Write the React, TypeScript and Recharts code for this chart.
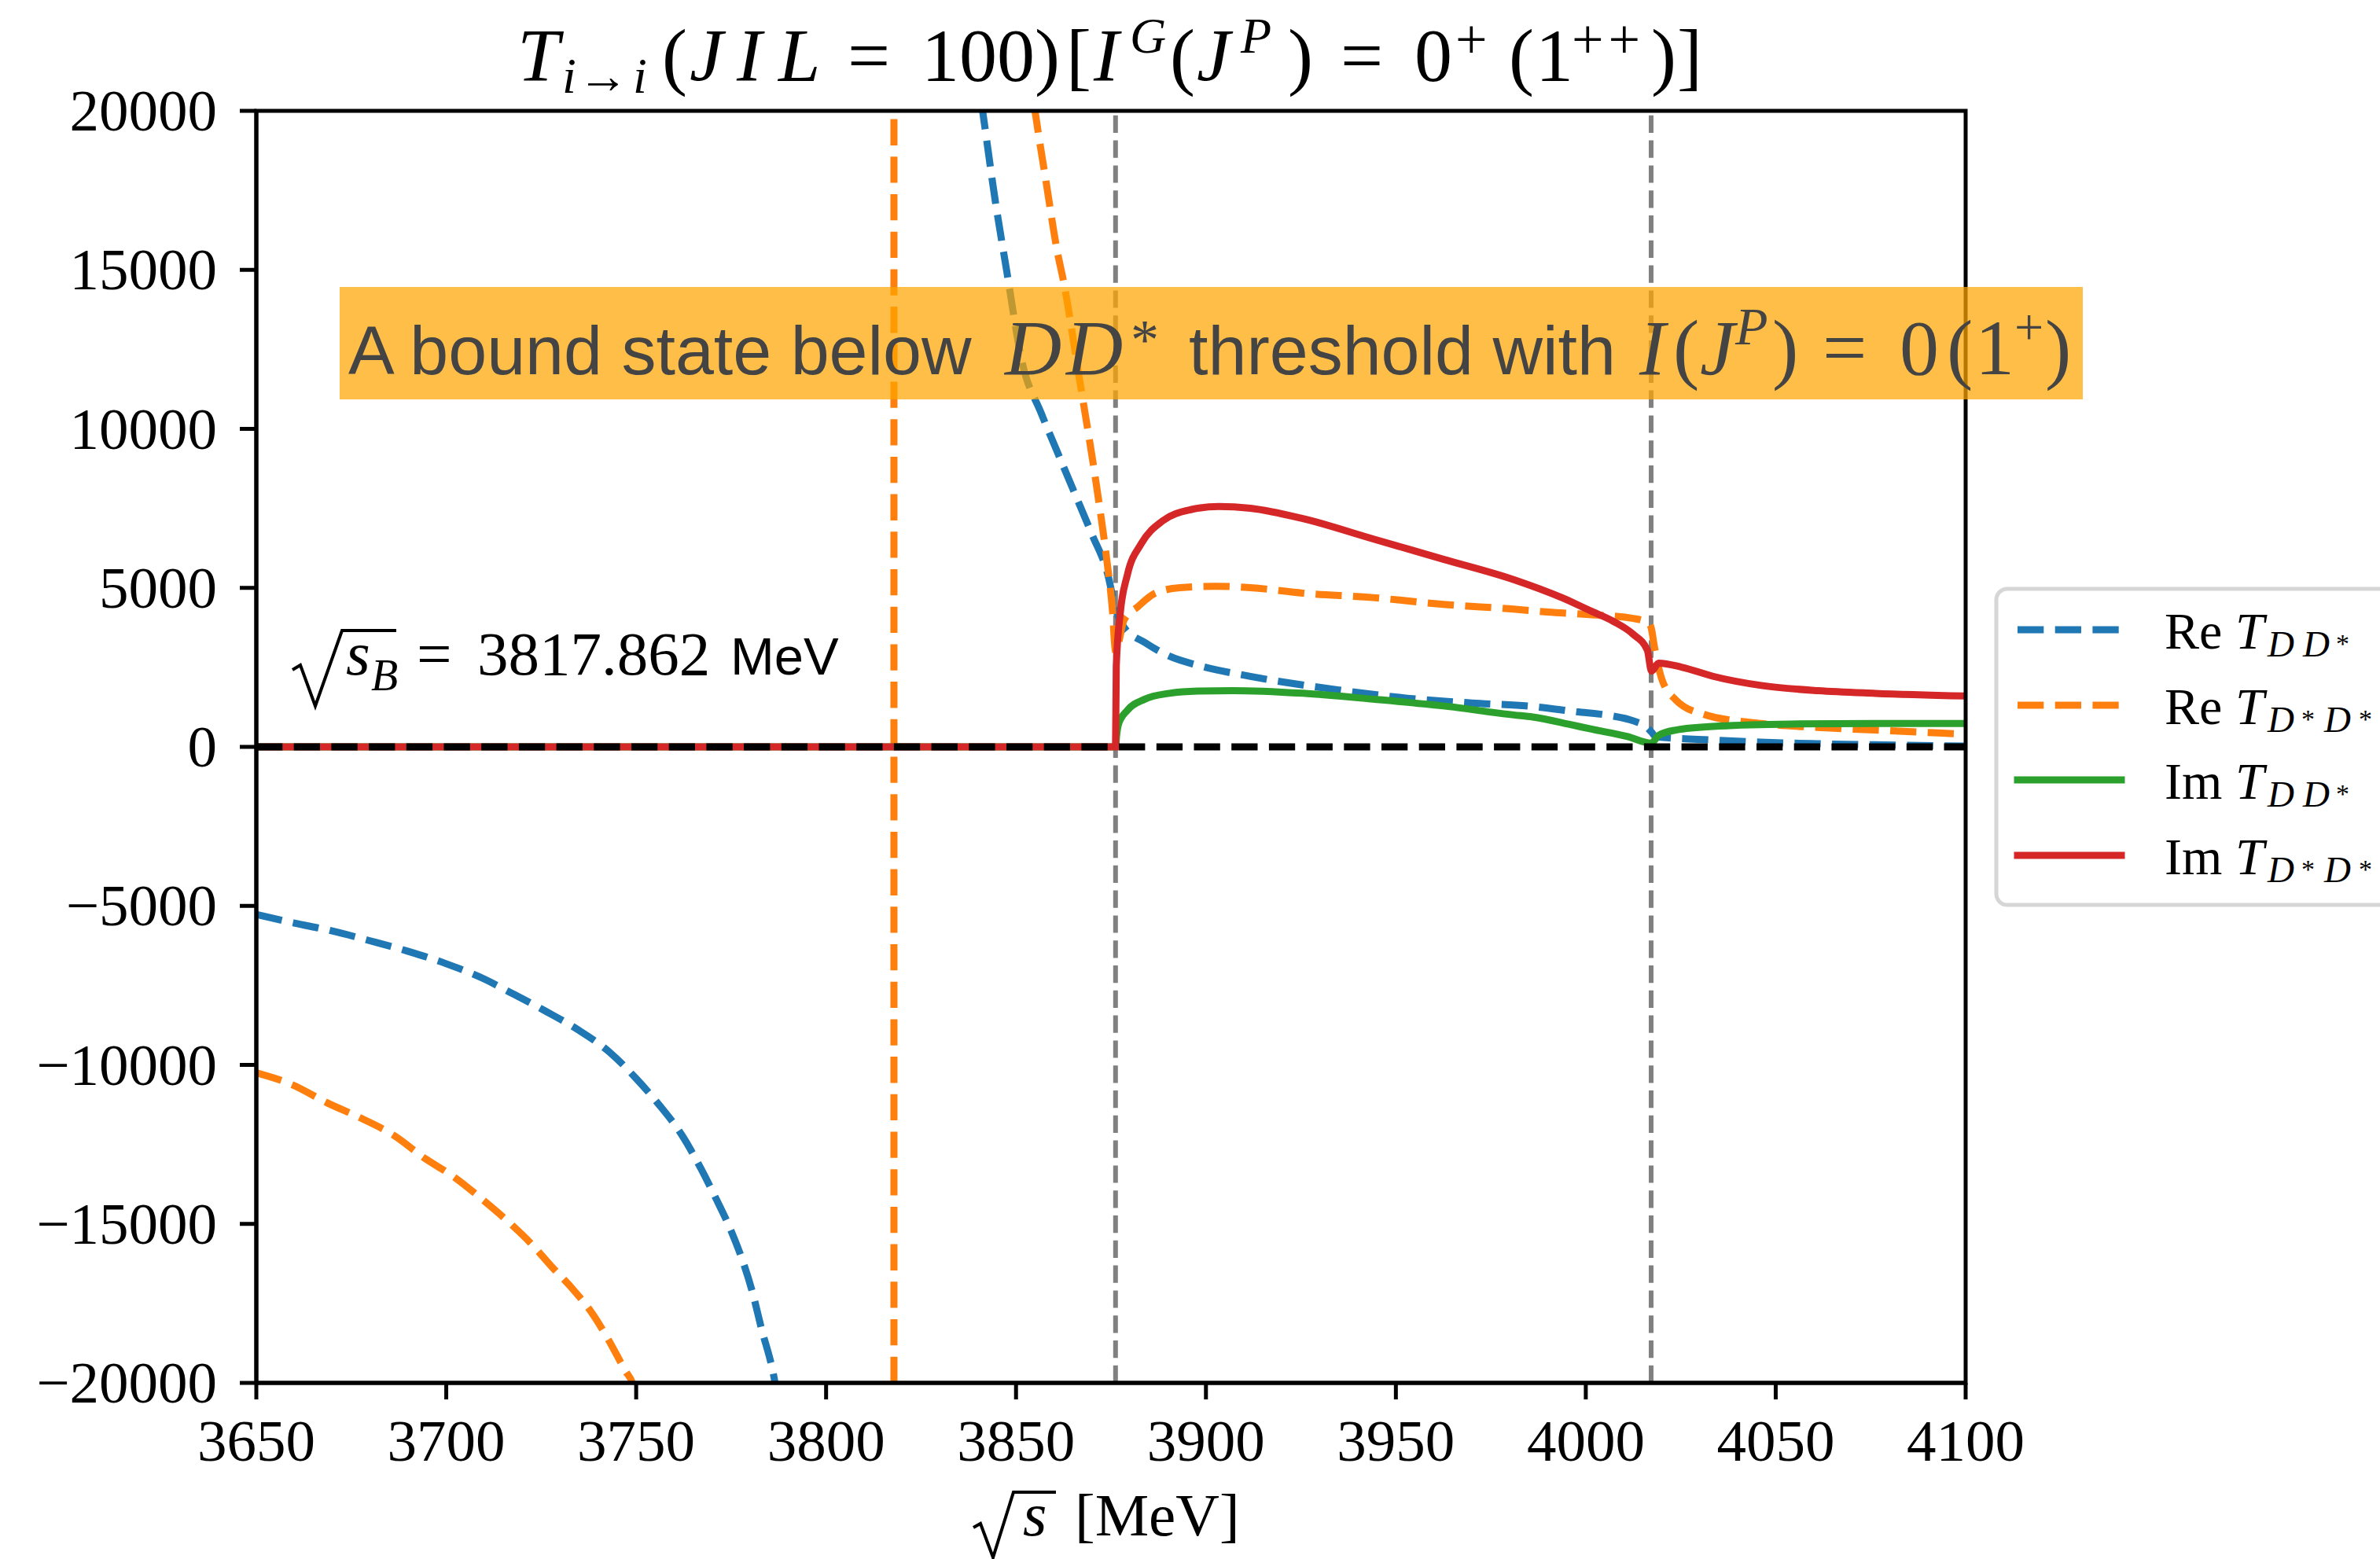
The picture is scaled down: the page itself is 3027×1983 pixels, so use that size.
import React from 'react';
import { LineChart, Line, XAxis, YAxis } from 'recharts';

const CHART_W = 3027;
const CHART_H = 1983;

const xTicks = [3650, 3700, 3750, 3800, 3850, 3900, 3950, 4000, 4050, 4100];
const yTicks = [-20000, -15000, -10000, -5000, 0, 5000, 10000, 15000, 20000];
const xDomain: [number, number] = [3650, 4100];
const yDomain: [number, number] = [-20000, 20000];

const thresholdDDs = 3876.2;
const thresholdDsDs = 4017.2;
const polePosition = 3817.862;

// Re T_{DD*}
const reDDLowX = [3650, 3660, 3670, 3680, 3690, 3700, 3710, 3717, 3726, 3735, 3743, 3750, 3756, 3762, 3767, 3771, 3775, 3778, 3780.5, 3783, 3786, 3788];
const reDDLowY = [-5270, -5540, -5790, -6100, -6430, -6820, -7300, -7730, -8300, -8920, -9600, -10430, -11250, -12200, -13250, -14200, -15220, -16150, -17100, -18300, -19650, -21000];
const reDDUpX = [3839.5, 3841.2, 3844.5, 3847.5, 3851.6, 3856.6, 3861, 3865, 3870, 3874.2, 3876.2, 3878.4, 3884, 3890.4, 3898, 3912, 3935, 3953, 3970, 3986, 3997.5, 4006.5, 4012.5, 4016, 4017.2, 4018.5, 4031, 4046, 4061, 4076, 4100];
const reDDUpY = [21400, 20000, 17200, 15000, 12100, 10500, 9240, 8100, 6680, 5400, 4340, 3770, 3275, 2850, 2560, 2210, 1790, 1530, 1380, 1271, 1106, 983, 818, 620, 480, 313, 231, 149, 99, 66, 25];

// Re T_{D*D*}
const reDsDsLowX = [3650, 3659.4, 3668.6, 3678, 3686, 3694.5, 3702, 3709.3, 3716.7, 3722.2, 3727.8, 3733.3, 3738, 3742.6, 3747.2, 3749, 3751];
const reDsDsLowY = [-10250, -10620, -11190, -11700, -12200, -12950, -13520, -14210, -14970, -15600, -16350, -17050, -17740, -18620, -19630, -20000, -21000];
const reDsDsUpX = [3853.5, 3855, 3858, 3860.8, 3862.6, 3866.4, 3871.5, 3873.8, 3875.4, 3876.2, 3878.4, 3882.1, 3886.7, 3893.2, 3902.4, 3911.7, 3925.5, 3944, 3962.5, 3981, 3990, 4001, 4012.5, 4016.5, 4017.2, 4018.1, 4020, 4023.7, 4031, 4046, 4061, 4076, 4100];
const reDsDsUpY = [21300, 20000, 17700, 15620, 14580, 11790, 7960, 5970, 4270, 2990, 3980, 4410, 4835, 5006, 5050, 5006, 4835, 4694, 4481, 4330, 4240, 4160, 4040, 3900, 3750, 3126, 2137, 1477, 1024, 735, 612, 529, 400];

// Im T_{DD*}
const imDDX = [3650, 3876.2, 3876.5, 3877, 3879.3, 3883.9, 3890.4, 3897.8, 3907, 3925.5, 3944, 3962.5, 3981, 3986, 3996, 4001, 4011, 4017.2, 4019.2, 4023.7, 4035, 4054, 4076, 4100];
const imDDY = [0, 0, 380, 720, 1146, 1500, 1685, 1756, 1770, 1685, 1500, 1288, 1005, 941, 700, 570, 323, 117, 364, 530, 653, 719, 735, 735];

// Im T_{D*D*}
const imDsDsX = [3650, 3876.2, 3876.4, 3877.5, 3879.3, 3883, 3888.6, 3896, 3903.4, 3911.7, 3925.5, 3944, 3962.5, 3981, 3993.7, 4001.2, 4007.2, 4012.5, 4016.2, 4017.3, 4019.2, 4025.2, 4033.5, 4046.2, 4061.2, 4076.2, 4100];
const imDsDsY = [0, 0, 2565, 4268, 5403, 6396, 7106, 7460, 7560, 7503, 7177, 6538, 5900, 5261, 4692, 4280, 3950, 3538, 3044, 2384, 2631, 2508, 2219, 1931, 1766, 1684, 1601];

const zeroLineX = [3650, 4100];
const zeroLineY = [0, 0];

type Pt = { x: number; y: number | null };
const zip = (xs: number[], ys: (number | null)[]): Pt[] => xs.map((x, i) => ({ x, y: ys[i] }));

const reDDData: Pt[] = [...zip(reDDLowX, reDDLowY), { x: polePosition, y: null }, ...zip(reDDUpX, reDDUpY)];
const reDsDsData: Pt[] = [...zip(reDsDsLowX, reDsDsLowY), { x: polePosition, y: null }, ...zip(reDsDsUpX, reDsDsUpY)];
const imDDData = zip(imDDX, imDDY);
const imDsDsData = zip(imDsDsX, imDsDsY);
const zeroData = zip(zeroLineX, zeroLineY);
const poleData = zip([polePosition, polePosition], yDomain);
const thr1Data = zip([thresholdDDs, thresholdDDs], yDomain);
const thr2Data = zip([thresholdDsDs, thresholdDsDs], yDomain);

const C_BLUE = '#1f77b4';
const C_ORANGE = '#ff7f0e';
const C_GREEN = '#2ca02c';
const C_RED = '#d62728';

const serif = "'Liberation Serif', 'DejaVu Serif', serif";
const sans = "'Liberation Sans', Arial, sans-serif";
const DASH = '33.3 14.4';
const LW = 9;

const fmtTick = (v: number) => (v < 0 ? '\u2212' + Math.abs(v) : String(v));

const XTick = (props: any) => {
  const { x, y, payload } = props;
  return (
    <text x={x} y={y + 78} textAnchor="middle" fontFamily={serif} fontSize={75} fill="#000">
      {fmtTick(payload.value)}
    </text>
  );
};

const YTick = (props: any) => {
  const { x, y, payload } = props;
  return (
    <text x={x - 29} y={y + 25} textAnchor="end" fontFamily={serif} fontSize={75} fill="#000">
      {fmtTick(payload.value)}
    </text>
  );
};

const Tx = (p: { x: number; y: number; s: number; it?: boolean; f?: string; fill?: string; ls?: number; children: React.ReactNode }) => (
  <text
    x={p.x}
    y={p.y}
    fontSize={p.s}
    fontStyle={p.it ? 'italic' : 'normal'}
    fontFamily={p.f || serif}
    fill={p.fill || '#000'}
    letterSpacing={p.ls}
  >
    {p.children}
  </text>
);

const LegendEntry = (p: { y: number; pre: string; sub: 'DD' | 'DsDs'; color: string; dashed: boolean }) => {
  const { y } = p;
  return (
    <g>
      <line
        x1={2566}
        x2={2698}
        y1={y}
        y2={y}
        stroke={p.color}
        strokeWidth={LW}
        strokeDasharray={p.dashed ? DASH : undefined}
        strokeLinecap={p.dashed ? 'butt' : 'square'}
      />
      <Tx x={2753} y={y + 24} s={66}>{p.pre}</Tx>
      <Tx x={2843} y={y + 24} s={66} it>T</Tx>
      {p.sub === 'DD' ? (
        <g>
          <Tx x={2884} y={y + 34} s={47} it>D</Tx>
          <Tx x={2929} y={y + 34} s={47} it>D</Tx>
          <Tx x={2971} y={y + 29} s={34}>*</Tx>
        </g>
      ) : (
        <g>
          <Tx x={2884} y={y + 34} s={47} it>D</Tx>
          <Tx x={2927} y={y + 29} s={34}>*</Tx>
          <Tx x={2956} y={y + 34} s={47} it>D</Tx>
          <Tx x={3000} y={y + 29} s={34}>*</Tx>
        </g>
      )}
    </g>
  );
};

export default function App() {
  return (
    <div style={{ position: 'absolute', left: 0, top: 0, width: CHART_W, height: CHART_H, background: '#fff' }}>
      <LineChart width={CHART_W} height={CHART_H} margin={{ top: 141, right: 527, bottom: 74, left: 26 }}>
        <XAxis
          dataKey="x"
          type="number"
          domain={xDomain}
          allowDataOverflow
          ticks={xTicks}
          interval={0}
          height={150}
          tickSize={21}
          tickMargin={0}
          tick={XTick}
          tickLine={{ stroke: '#000', strokeWidth: 5 }}
          axisLine={{ stroke: '#000', strokeWidth: 5 }}
        />
        <YAxis
          type="number"
          domain={yDomain}
          allowDataOverflow
          ticks={yTicks}
          interval={0}
          width={300}
          tickSize={21}
          tickMargin={0}
          tick={YTick}
          tickLine={{ stroke: '#000', strokeWidth: 5 }}
          axisLine={{ stroke: '#000', strokeWidth: 5 }}
        />
        <Line data={thr1Data} dataKey="y" type="linear" stroke="#808080" strokeWidth={6} strokeDasharray="22.2 9.6" dot={false} activeDot={false} isAnimationActive={false} />
        <Line data={thr2Data} dataKey="y" type="linear" stroke="#808080" strokeWidth={6} strokeDasharray="22.2 9.6" dot={false} activeDot={false} isAnimationActive={false} />
        <Line data={reDDData} dataKey="y" type="monotone" stroke={C_BLUE} strokeWidth={LW} strokeDasharray={DASH} dot={false} activeDot={false} isAnimationActive={false} />
        <Line data={reDsDsData} dataKey="y" type="monotone" stroke={C_ORANGE} strokeWidth={LW} strokeDasharray={DASH} dot={false} activeDot={false} isAnimationActive={false} />
        <Line data={poleData} dataKey="y" type="linear" stroke={C_ORANGE} strokeWidth={LW} strokeDasharray={DASH} dot={false} activeDot={false} isAnimationActive={false} />
        <Line data={imDDData} dataKey="y" type="monotone" stroke={C_GREEN} strokeWidth={LW} dot={false} activeDot={false} isAnimationActive={false} />
        <Line data={imDsDsData} dataKey="y" type="monotone" stroke={C_RED} strokeWidth={LW} dot={false} activeDot={false} isAnimationActive={false} />
        <Line data={zeroData} dataKey="y" type="linear" stroke="#000" strokeWidth={LW} strokeDasharray={DASH} dot={false} activeDot={false} isAnimationActive={false} />
      </LineChart>

      <svg width={CHART_W} height={CHART_H} style={{ position: 'absolute', left: 0, top: 0, pointerEvents: 'none' }}>
        {/* frame */}
        <rect x={326} y={141} width={2174} height={1618} fill="none" stroke="#000" strokeWidth={5} />

        {/* title */}
        <Tx x={658} y={103} s={96} it>T</Tx>
        <Tx x={715} y={118} s={64} it>i</Tx>
        <Tx x={735} y={118} s={64}>→</Tx>
        <Tx x={805} y={118} s={64} it>i</Tx>
        <Tx x={842} y={103} s={96}>(</Tx>
        <Tx x={877} y={103} s={96} it>J</Tx>
        <Tx x={937} y={103} s={96} it>I</Tx>
        <Tx x={990} y={103} s={96} it>L</Tx>
        <Tx x={1078} y={103} s={96}>=</Tx>
        <Tx x={1172} y={103} s={96}>100</Tx>
        <Tx x={1316} y={103} s={96}>)</Tx>
        <Tx x={1356} y={103} s={96}>[</Tx>
        <Tx x={1391} y={103} s={96} it>I</Tx>
        <Tx x={1437} y={67} s={64} it>G</Tx>
        <Tx x={1488} y={103} s={96}>(</Tx>
        <Tx x={1522} y={103} s={96} it>J</Tx>
        <Tx x={1578} y={67} s={64} it>P</Tx>
        <Tx x={1638} y={103} s={96}>)</Tx>
        <Tx x={1705} y={103} s={96}>=</Tx>
        <Tx x={1799} y={103} s={96}>0</Tx>
        <Tx x={1851} y={74} s={72}>+</Tx>
        <Tx x={1919} y={103} s={96}>(</Tx>
        <Tx x={1953} y={103} s={96}>1</Tx>
        <Tx x={1999} y={74} s={72} ls={6}>++</Tx>
        <Tx x={2100} y={103} s={96}>)</Tx>
        <Tx x={2133} y={103} s={96}>]</Tx>

        {/* banner */}
        <rect x={432} y={365} width={2217} height={143} fill="#ffa500" fillOpacity={0.72} />
        <Tx x={443} y={476} s={88} f={sans} fill="#444">A bound state below</Tx>
        <Tx x={1278} y={476} s={100} it fill="#444">D</Tx>
        <Tx x={1356} y={476} s={100} it fill="#444">D</Tx>
        <Tx x={1438} y={456} s={72} fill="#444">*</Tx>
        <Tx x={1512} y={476} s={88} f={sans} fill="#444">threshold with</Tx>
        <Tx x={2085} y={476} s={100} it fill="#444">I</Tx>
        <Tx x={2128} y={476} s={100} fill="#444">(</Tx>
        <Tx x={2162} y={476} s={100} it fill="#444">J</Tx>
        <Tx x={2207} y={438} s={68} it fill="#444">P</Tx>
        <Tx x={2254} y={476} s={100} fill="#444">)</Tx>
        <Tx x={2318} y={476} s={100} fill="#444">=</Tx>
        <Tx x={2416} y={476} s={100} fill="#444">0</Tx>
        <Tx x={2476} y={476} s={100} fill="#444">(</Tx>
        <Tx x={2512} y={476} s={100} fill="#444">1</Tx>
        <Tx x={2562} y={438} s={66} fill="#444">+</Tx>
        <Tx x={2601} y={476} s={100} fill="#444">)</Tx>

        {/* bound state annotation */}
        <path d="M372,852 L382,846 L401,898 L435,802 L504,802" fill="none" stroke="#000" strokeWidth={4} />
        <Tx x={440} y={858} s={79} it>s</Tx>
        <Tx x={472} y={878} s={56} it>B</Tx>
        <Tx x={530} y={858} s={79}>=</Tx>
        <Tx x={607} y={858} s={79}>3817.862</Tx>
        <Tx x={929} y={858} s={67} f={sans}>MeV</Tx>

        {/* x-axis label */}
        <path d="M1238,1943 L1247,1938 L1263,1981 L1289,1898 L1343,1898" fill="none" stroke="#000" strokeWidth={4} />
        <Tx x={1301} y={1953} s={78} it>s</Tx>
        <Tx x={1367} y={1953} s={77}>[MeV]</Tx>

        {/* legend */}
        <rect x={2539} y={749} width={600} height={402} rx={14} fill="#fff" stroke="#d6d6d6" strokeWidth={5} />
        <LegendEntry y={801} pre="Re" sub="DD" color={C_BLUE} dashed />
        <LegendEntry y={897} pre="Re" sub="DsDs" color={C_ORANGE} dashed />
        <LegendEntry y={992} pre="Im" sub="DD" color={C_GREEN} dashed={false} />
        <LegendEntry y={1088} pre="Im" sub="DsDs" color={C_RED} dashed={false} />
      </svg>
    </div>
  );
}
